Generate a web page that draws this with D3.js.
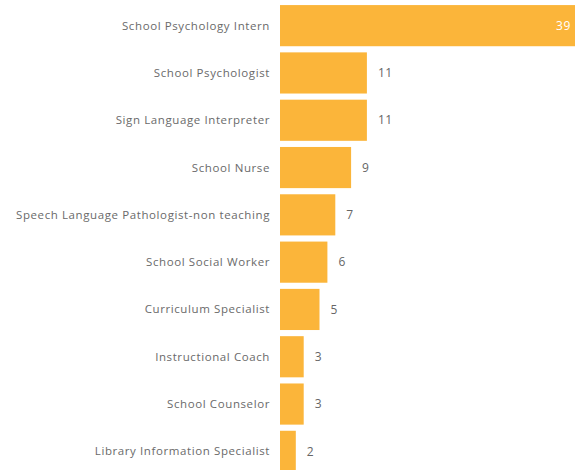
<!DOCTYPE html>
<html>
<head>
<meta charset="utf-8">
<script src="https://cdn.jsdelivr.net/npm/d3@7/dist/d3.min.js"></script>
<style>
  html, body { margin: 0; padding: 0; background: #fff; }
  svg { display: block; }
  text { font-family: "Open Sans", "Noto Sans", sans-serif; }
</style>
</head>
<body>
<div id="chart"></div>
<script>
// Staff positions and counts
const positions = [
  "School Psychology Intern",
  "School Psychologist",
  "Sign Language Interpreter",
  "School Nurse",
  "Speech Language Pathologist-non teaching",
  "School Social Worker",
  "Curriculum Specialist",
  "Instructional Coach",
  "School Counselor",
  "Library Information Specialist"
];
const counts = [39, 11, 11, 9, 7, 6, 5, 3, 3, 2];

const width = 575, height = 470;
const barLeft = 280;

const svg = d3.select("#chart").append("svg")
  .attr("width", width)
  .attr("height", height);

const x = d3.scaleLinear()
  .domain([0, 39])
  .range([barLeft, barLeft + 39 * 7.9]);

const y = d3.scaleBand()
  .domain(positions)
  .range([2, 475])
  .paddingInner(0.13)
  .paddingOuter(0.065);

const rows = positions.map((p, i) => ({ name: p, value: counts[i] }));

svg.append("g").selectAll("rect")
  .data(rows)
  .join("rect")
  .attr("x", x(0))
  .attr("y", d => y(d.name))
  .attr("width", d => x(d.value) - x(0))
  .attr("height", y.bandwidth())
  .attr("fill", "#FBB53A");

// category labels
svg.append("g").selectAll("text")
  .data(rows)
  .join("text")
  .attr("x", barLeft - 10)
  .attr("y", d => y(d.name) + y.bandwidth() / 2)
  .attr("dy", "0.35em")
  .attr("text-anchor", "end")
  .attr("font-size", 11.5)
  .attr("letter-spacing", 0.6)
  .attr("fill", "#6a6a6a")
  .text(d => d.name);

// value labels: outside the bar end, or inside in white when the bar runs off the edge
const inside = d => x(d.value) + 10 > width - 30;
svg.append("g").selectAll("text")
  .data(rows)
  .join("text")
  .attr("x", d => inside(d) ? x(d.value) - 32 : x(d.value) + 11)
  .attr("y", d => y(d.name) + y.bandwidth() / 2)
  .attr("dy", "0.35em")
  .attr("text-anchor", "start")
  .attr("font-size", 12)
  .attr("letter-spacing", 0.5)
  .attr("fill", d => inside(d) ? "#fff" : "#666")
  .text(d => d.value);
</script>
</body>
</html>
